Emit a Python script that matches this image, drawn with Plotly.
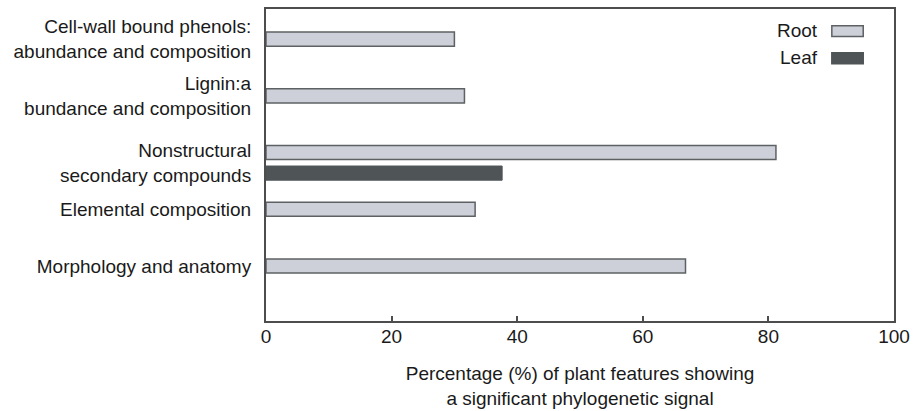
import plotly.graph_objects as go

# ---- data ----
categories = [
    "Cell-wall bound phenols:<br>abundance and composition",
    "Lignin:a<br>bundance and composition",
    "Nonstructural<br>secondary compounds",
    "Elemental composition",
    "Morphology and anatomy",
]
root_values = [30.0, 31.6, 81.2, 33.3, 66.8]
leaf_values = [None, None, 37.6, None, None]
x_ticks = [0, 20, 40, 60, 80, 100]
series_names = ["Root", "Leaf"]

# ---- styles ----
ROOT_FILL = "#cdd0d8"
ROOT_LINE = "#5e6163"
LEAF_FILL = "#4f5557"
AXIS_COLOR = "#4d4d4d"
TEXT_COLOR = "#1a1a1a"
FONT = "Liberation Sans, Arial, Helvetica, sans-serif"
FS = 19
BAR_W = 0.25
LEAF_SHIFT = 0.363  # centre of leaf bar below its category position

positions = list(range(len(categories)))
tick_pos = [p + (LEAF_SHIFT / 2 if lv is not None else 0) for p, lv in zip(positions, leaf_values)]

fig = go.Figure()
fig.add_trace(go.Bar(
    y=positions, x=root_values, orientation="h", name=series_names[0],
    width=BAR_W, offset=-BAR_W / 2,
    marker=dict(color=ROOT_FILL, line=dict(color=ROOT_LINE, width=1.5)),
    showlegend=False, hoverinfo="x",
))
fig.add_trace(go.Bar(
    y=positions, x=leaf_values, orientation="h", name=series_names[1],
    width=BAR_W, offset=LEAF_SHIFT - BAR_W / 2,
    marker=dict(color=LEAF_FILL, line=dict(color=LEAF_FILL, width=1)),
    showlegend=False, hoverinfo="x",
))

fig.update_layout(
    width=913, height=411,
    margin=dict(l=266, r=19, t=9, b=90),
    paper_bgcolor="white", plot_bgcolor="white",
    barmode="overlay",
    font=dict(family=FONT, size=FS, color=TEXT_COLOR),
    xaxis=dict(
        range=[0, 100], tickvals=x_ticks, ticks="inside", ticklen=5, tickwidth=1.5,
        tickcolor=AXIS_COLOR, showline=True, linecolor=AXIS_COLOR, linewidth=2,
        mirror=True, showgrid=False, zeroline=False, ticklabelstandoff=-3,
        automargin=False,
        title=dict(text="Percentage (%) of plant features showing<br>a significant phylogenetic signal",
                   standoff=21, font=dict(size=FS)),
        tickfont=dict(size=FS),
    ),
    yaxis=dict(
        range=[4.97, -0.53], tickvals=tick_pos, ticktext=categories,
        ticks="", showline=True, linecolor=AXIS_COLOR, linewidth=2, mirror=True,
        showgrid=False, zeroline=False, ticklabelstandoff=9, automargin=False,
        tickfont=dict(size=FS),
    ),
)

# custom legend (text on the left, swatch on the right)
legend_items = [
    (series_names[0], ROOT_FILL, ROOT_LINE, 0.9296, 0.9116, 0.9466),
    (series_names[1], LEAF_FILL, LEAF_FILL, 0.8436, 0.8246, 0.8596),
]
for name, fill, line, yc, y0, y1 in legend_items:
    fig.add_annotation(x=0.882, y=yc, xref="paper", yref="paper", text=name,
                       showarrow=False, xanchor="right", yanchor="middle",
                       font=dict(size=FS, color=TEXT_COLOR, family=FONT))
    fig.add_shape(type="rect", xref="paper", yref="paper", x0=0.901, x1=0.951,
                  y0=y0, y1=y1, fillcolor=fill, line=dict(color=line, width=1.5))

fig.write_html("out.html", config={"displayModeBar": False},
               post_script="document.body.style.margin='0';document.body.style.overflow='hidden';")
